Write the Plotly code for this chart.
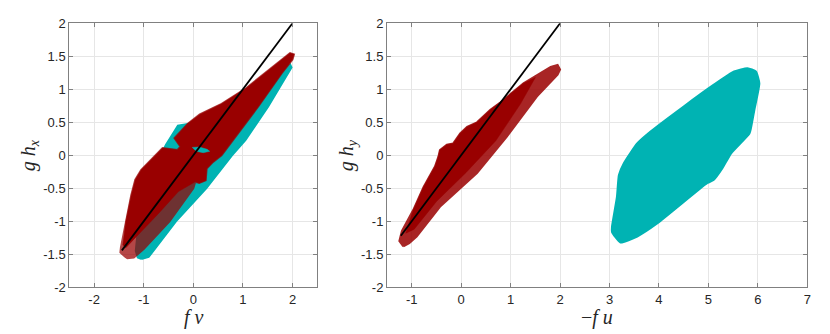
import plotly.graph_objects as go

# ---------------- data ----------------
y_ticks = [-2, -1.5, -1, -0.5, 0, 0.5, 1, 1.5, 2]
y_tick_text = ["-2", "-1.5", "-1", "-0.5", "0", "0.5", "1", "1.5", "2"]
x_ticks_left = [-2, -1, 0, 1, 2]
x_ticks_left_text = ["-2", "-1", "0", "1", "2"]
x_ticks_right = [-1, 0, 1, 2, 3, 4, 5, 6, 7]
x_ticks_right_text = ["-1", "0", "1", "2", "3", "4", "5", "6", "7"]

# left panel (f v , g h_x)
left_teal_x = [-1.05, -0.9, -0.35, 0.26, 0.78, 1.05, 1.51, 1.92, 1.98, 1.95, 1.88,
               1.6, 1.0, 0.5, -0.14, -0.31, -0.55, -0.8, -1.1, -1.16, -1.12]
left_teal_y = [-1.57, -1.54, -1.0, -0.5, 0.0, 0.23, 0.74, 1.24, 1.33, 1.38, 1.36,
               1.15, 0.75, 0.55, 0.47, 0.45, 0.16, -0.2, -1.0, -1.45, -1.55]

left_red_x = [-1.40, -1.47, -1.46, -1.36, -1.25, -1.17, -1.05, -0.62, -0.32, -0.26,
              -0.38, -0.11, 0.13, 0.57, 1.07, 1.95, 2.03, 2.0, 1.78, 1.31, 0.8, 0.57,
              0.4, 0.27, 0.25, 0.12, 0.04, 0.0, -0.48, -1.0, -1.2, -1.33]
left_red_y = [-1.52, -1.47, -1.40, -1.0, -0.6, -0.37, -0.22, 0.11, 0.08, 0.13,
              0.26, 0.48, 0.62, 0.78, 1.02, 1.55, 1.53, 1.45, 1.24, 0.74, 0.23, 0.0,
              -0.1, -0.2, -0.38, -0.42, -0.4, -0.5, -1.0, -1.42, -1.55, -1.56]

left_red_core_x = [-1.42, -1.36, -1.25, -1.17, -1.05, -0.62, -0.32, -0.26, -0.38,
                   -0.11, 0.13, 0.57, 1.07, 1.95, 2.03, 2.0, 1.78, 1.31, 0.8, 0.57,
                   0.4, 0.27, 0.25, 0.12, 0.04, -0.3, -0.7, -1.1, -1.36]
left_red_core_y = [-1.36, -1.0, -0.6, -0.37, -0.22, 0.11, 0.08, 0.13, 0.26,
                   0.48, 0.62, 0.78, 1.02, 1.55, 1.53, 1.45, 1.24, 0.74, 0.23, 0.0,
                   -0.1, -0.2, -0.38, -0.42, -0.4, -0.55, -0.88, -1.2, -1.40]

left_island_x = [-0.02, 0.12, 0.28, 0.33, 0.2, 0.06]
left_island_y = [0.12, 0.125, 0.09, 0.06, 0.04, 0.06]

# right panel (-f u , g h_y)
right_teal_x = [3.05, 3.22, 3.56, 3.97, 4.98, 5.11, 5.28, 5.46, 5.83, 5.86, 5.93, 6.03,
                5.96, 5.79, 5.52, 5.11, 4.50, 3.83, 3.56, 3.29, 3.19, 3.15, 3.05]
right_teal_y = [-1.16, -1.32, -1.23, -1.03, -0.42, -0.37, -0.2, 0.03, 0.33, 0.41, 0.69, 1.09,
                1.27, 1.32, 1.27, 1.07, 0.74, 0.36, 0.18, -0.12, -0.30, -0.63, -1.08]

right_red_x = [-1.17, -1.25, -1.2, -0.97, -0.76, -0.53, -0.46, -0.43, -0.29, -0.16,
               -0.02, 0.12, 0.32, 0.59, 0.79, 1.26, 1.81, 1.95, 2.0, 1.95, 1.53,
               0.92, 0.32, -0.43, -0.9, -1.05]
right_red_y = [-1.38, -1.30, -1.15, -0.83, -0.48, -0.17, -0.02, 0.08, 0.16, 0.18,
               0.33, 0.43, 0.5, 0.69, 0.80, 1.09, 1.34, 1.37, 1.3, 1.22, 0.89,
               0.28, -0.27, -0.78, -1.23, -1.33]

right_red_core_x = [-1.12, -0.97, -0.76, -0.53, -0.46, -0.43, -0.29, -0.16, -0.02, 0.12,
                    0.32, 0.59, 0.79, 1.26, 1.5, 1.2, 0.7, 0.1, -0.5, -0.95]
right_red_core_y = [-1.18, -0.83, -0.48, -0.17, -0.02, 0.08, 0.16, 0.18, 0.33, 0.43,
                    0.5, 0.69, 0.80, 1.09, 1.18, 0.78, 0.22, -0.26, -0.7, -1.12]

diag_left = [-1.44, 2.0]
diag_right = [-1.22, 2.0]

# ---------------- styling ----------------
TEAL = "rgb(0,179,179)"
RED = "rgb(153,0,0)"
GRID = "rgb(230,230,230)"
AXIS = "rgb(128,128,128)"
TICKFONT = dict(family="Liberation Sans, Arial, sans-serif", size=13, color="rgb(38,38,38)")

# the page body has an 8px margin: lay the figure out in reference pixels minus 8
OFF = 8.0
W, H = 814, 326

fig = go.Figure()


def poly(x, y, color, opacity, xa, ya, lw=0.0, smooth=False):
    line = dict(color=color, width=lw)
    if smooth:
        line.update(shape="spline", smoothing=0.5)
    fig.add_trace(go.Scatter(
        x=x + [x[0]], y=y + [y[0]], mode="lines", fill="toself",
        fillcolor=color, line=line,
        opacity=opacity, hoverinfo="skip", showlegend=False, xaxis=xa, yaxis=ya))


# left panel
poly(left_teal_x, left_teal_y, TEAL, 1.0, "x", "y", 2.0)
poly(left_red_x, left_red_y, RED, 0.72, "x", "y", 2.0)
poly(left_red_core_x, left_red_core_y, RED, 1.0, "x", "y", 0.5)
poly(left_island_x, left_island_y, TEAL, 1.0, "x", "y", 0.5)
fig.add_trace(go.Scatter(x=diag_left, y=diag_left, mode="lines",
                         line=dict(color="black", width=1.8), hoverinfo="skip",
                         showlegend=False, xaxis="x", yaxis="y"))

# right panel
poly(right_teal_x, right_teal_y, TEAL, 1.0, "x2", "y2", 2.0, smooth=True)
poly(right_red_x, right_red_y, RED, 0.85, "x2", "y2", 2.0)
poly(right_red_core_x, right_red_core_y, RED, 1.0, "x2", "y2", 0.5)
fig.add_trace(go.Scatter(x=diag_right, y=diag_right, mode="lines",
                         line=dict(color="black", width=1.8), hoverinfo="skip",
                         showlegend=False, xaxis="x2", yaxis="y2"))


def fx(px):
    return (px - OFF) / W


def fy(py):
    return (H - (py - OFF)) / H


ydom = [fy(287.3), fy(23.3)]

common = dict(showline=True, linecolor=AXIS, linewidth=1, mirror="ticks",
              ticks="inside", ticklen=4, tickcolor=AXIS, showgrid=True,
              gridcolor=GRID, gridwidth=1, zeroline=False, automargin=False,
              tickfont=TICKFONT)

fig.update_layout(
    template="none",
    width=W, height=H, margin=dict(l=0, r=0, t=0, b=0, pad=0),
    paper_bgcolor="white", plot_bgcolor="white",
    xaxis=dict(domain=[fx(69.3), fx(317.3)], range=[-2.5, 2.5],
               tickvals=x_ticks_left, ticktext=x_ticks_left_text, anchor="y", **common),
    yaxis=dict(domain=ydom, range=[-2, 2], tickvals=y_ticks, ticktext=y_tick_text,
               anchor="x", **common),
    xaxis2=dict(domain=[fx(387.0), fx(807.3)], range=[-1.5, 7],
                tickvals=x_ticks_right, ticktext=x_ticks_right_text, anchor="y2", **common),
    yaxis2=dict(domain=ydom, range=[-2, 2], tickvals=y_ticks, ticktext=y_tick_text,
                anchor="x2", **common),
)

LBL = dict(family="Liberation Serif, DejaVu Serif, serif", size=20, color="rgb(38,38,38)")
for txt, px, py, ang in [("<i>f v</i>", 193.7, 317, 0),
                         ("<i>g h<sub>x</sub></i>", 29, 155.3, -90),
                         ("\u2212<i>f u</i>", 597, 317, 0),
                         ("<i>g h<sub>y</sub></i>", 347, 155.3, -90)]:
    fig.add_annotation(x=fx(px), y=fy(py), xref="paper", yref="paper",
                       xanchor="center", yanchor="middle", text=txt,
                       showarrow=False, font=LBL, textangle=ang)

fig.write_html("out.html")
